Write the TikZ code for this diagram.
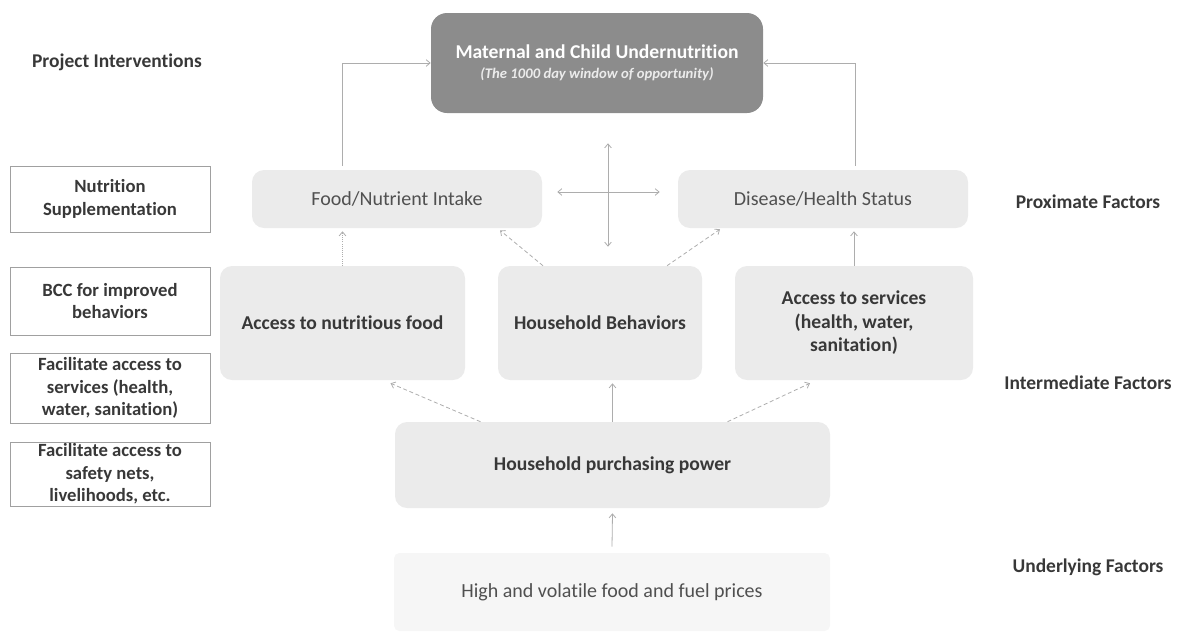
\documentclass[tikz,border=0pt]{standalone}
\usepackage{fontspec}
\setmainfont{Carlito}[Ligatures=NoCommon]
\usetikzlibrary{calc,arrows.meta}
\definecolor{topfill}{HTML}{8C8C8C}
\definecolor{lightfill}{HTML}{EBEBEB}
\definecolor{palefill}{HTML}{F6F6F6}
\definecolor{txt}{HTML}{383838}
\definecolor{txtreg}{HTML}{505050}
\definecolor{arrowgray}{HTML}{ADADAD}
\definecolor{leftborder}{HTML}{A0A0A0}
\tikzset{
  factorbox/.style={rounded corners=9pt, fill=lightfill, draw=none, align=center, inner sep=2pt},
  regtext/.style={font=\fontsize{15}{18}\selectfont, text=txtreg},
  boldtext/.style={font=\fontsize{14.7}{17.6}\selectfont\bfseries, text=txt},
  leftbox/.style={draw=leftborder, line width=0.6pt, fill=white, align=center, minimum width=150pt, inner sep=1pt, font=\fontsize{14}{17}\selectfont\bfseries, text=txt},
  sidelabel/.style={font=\fontsize{14.6}{17}\selectfont\bfseries, text=txt},
  conn/.style={draw=arrowgray, line width=0.6pt, -{Straight Barb[length=3pt,width=5pt]}},
  dconn/.style={conn, {Straight Barb[length=3pt,width=5pt]}-{Straight Barb[length=3pt,width=5pt]}},
}
\begin{document}
\begin{tikzpicture}[x=0.75pt, y=-0.75pt]
\useasboundingbox (0,0) rectangle (1179,633);
% top box
\node[factorbox, rounded corners=12pt, fill=topfill, minimum width=249pt, minimum height=75pt] (top) at (597,63)
  {{\fontsize{14.7}{16}\selectfont\bfseries\color{white}Maternal and Child Undernutrition}\\[3pt]
   {\fontsize{11}{13}\selectfont\bfseries\itshape\color{white!92!black}(The 1000 day window of opportunity)}};
% proximate
\node[factorbox, regtext, minimum width=217.5pt, minimum height=43.5pt] (food) at (397,199) {Food/Nutrient Intake};
\node[factorbox, regtext, minimum width=217.5pt, minimum height=43.5pt] (dis) at (823,199) {Disease/Health Status};
% intermediate
\node[factorbox, boldtext, minimum width=183.75pt, minimum height=85.5pt] (acc) at (342.5,323) {Access to nutritious food};
\node[factorbox, boldtext, minimum width=153pt, minimum height=85.5pt] (hh) at (600,323) {Household Behaviors};
\node[factorbox, boldtext, minimum width=178.5pt, minimum height=85.5pt] (srv) at (854,323) {Access to services\\(health, water,\\sanitation)};
% purchasing power and prices
\node[factorbox, boldtext, minimum width=326.25pt, minimum height=64.5pt] (pp) at (612.5,465) {Household purchasing power};
\node[factorbox, regtext, rounded corners=4pt, fill=palefill, minimum width=327pt, minimum height=58.5pt] (high) at (612,592) {High and volatile food and fuel prices};
% left column
\node[sidelabel] (proj) at (117,62) {Project Interventions};
\node[leftbox, minimum height=49.5pt] (l1) at (110,199) {Nutrition\\Supplementation};
\node[leftbox, minimum height=51pt] (l2) at (110,301) {BCC for improved\\behaviors};
\node[leftbox, minimum height=52.5pt] (l3) at (110,388) {Facilitate access to\\services (health,\\water, sanitation)};
\node[leftbox, minimum height=48pt] (l4) at (110,474) {Facilitate access to\\safety nets,\\livelihoods, etc.};
% right labels
\node[sidelabel] (prox) at (1088,202) {Proximate Factors};
\node[sidelabel] (inter) at (1088,383) {Intermediate Factors};
\node[sidelabel] (under) at (1088,567) {Underlying Factors};
% connectors
\draw[conn] ($(food.north)+(-55,-4)$) |- (top.west);
\draw[conn] ($(dis.north)+(32,-4)$) |- (top.east);
\draw[dconn] ($(food.east)+(15,-7)$) -- ($(dis.west)+(-18,-7)$);
\draw[dconn] ($(top.south)+(11,30)$) -- ($(hh.north)+(8,-19)$);
\draw[conn, densely dotted] (acc.north) -- ($(acc.north |- food.south)+(0,3)$);
\draw[conn, densely dashed] ($(hh.north)+(-57,0)$) -- ($(food.south)+(103,2)$);
\draw[conn, densely dashed] ($(hh.north)+(67,0)$) -- ($(dis.south)+(-103,1)$);
\draw[conn] (srv.north) -- ($(srv.north |- dis.south)+(0,3)$);
\draw[conn, densely dashed] ($(pp.north)+(-132,0)$) -- ($(acc.south)+(48,3)$);
\draw[conn] (pp.north) -- ($(pp.north |- hh.south)+(0,3)$);
\draw[conn, densely dashed] ($(pp.north)+(115,0)$) -- ($(srv.south)+(-44,3)$);
\draw[conn] ($(high.north)+(0,-6)$) -- ($(pp.south)+(0,5)$);
\end{tikzpicture}
\end{document}
